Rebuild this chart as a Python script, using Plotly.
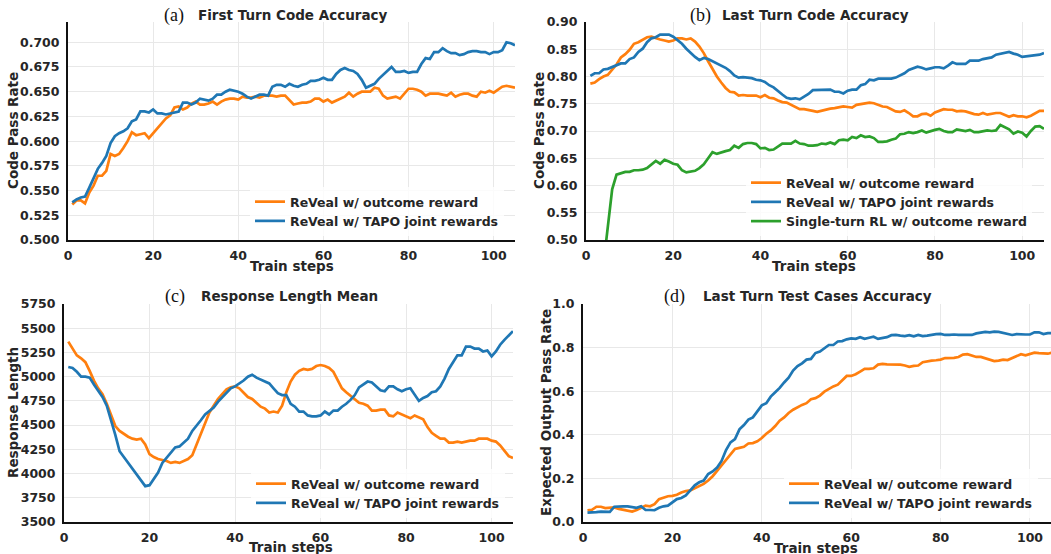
import plotly.graph_objects as go

W, H = 1051, 554

steps = list(range(1, 106))
green_steps = list(range(4, 106))

a_orange = [0.536,0.540,0.540,0.537,0.548,0.555,0.565,0.565,0.570,0.587,
 0.585,0.587,0.593,0.600,0.609,0.606,0.607,0.608,0.603,0.608,
 0.614,0.618,0.623,0.626,0.634,0.635,0.632,0.634,0.638,0.640,
 0.637,0.637,0.638,0.640,0.637,0.640,0.642,0.643,0.643,0.642,
 0.645,0.644,0.644,0.645,0.644,0.646,0.646,0.646,0.645,0.646,
 0.646,0.641,0.637,0.638,0.639,0.639,0.640,0.643,0.643,0.640,
 0.642,0.639,0.641,0.643,0.645,0.649,0.645,0.648,0.650,0.650,
 0.650,0.654,0.653,0.646,0.643,0.644,0.645,0.643,0.648,0.653,
 0.653,0.652,0.650,0.646,0.648,0.648,0.648,0.647,0.646,0.649,
 0.645,0.647,0.648,0.648,0.646,0.645,0.650,0.649,0.651,0.649,
 0.652,0.655,0.656,0.655,0.654]
a_blue = [0.538,0.541,0.543,0.544,0.553,0.562,0.572,0.578,0.585,0.598,
 0.605,0.608,0.610,0.613,0.620,0.622,0.630,0.630,0.629,0.632,
 0.628,0.628,0.627,0.628,0.629,0.630,0.639,0.639,0.637,0.639,
 0.643,0.642,0.641,0.643,0.647,0.647,0.650,0.652,0.651,0.650,
 0.648,0.645,0.643,0.645,0.647,0.647,0.646,0.655,0.657,0.657,
 0.655,0.658,0.656,0.655,0.657,0.658,0.661,0.661,0.662,0.664,
 0.662,0.662,0.668,0.672,0.674,0.672,0.671,0.668,0.662,0.654,
 0.656,0.658,0.663,0.667,0.670,0.675,0.670,0.670,0.671,0.669,
 0.670,0.670,0.678,0.684,0.683,0.690,0.690,0.694,0.691,0.689,
 0.689,0.687,0.688,0.690,0.691,0.691,0.690,0.690,0.688,0.690,
 0.690,0.692,0.700,0.699,0.697]

b_orange = [0.787,0.789,0.795,0.800,0.803,0.812,0.822,0.835,0.841,0.849,
 0.860,0.863,0.868,0.872,0.873,0.870,0.868,0.866,0.864,0.866,
 0.870,0.870,0.868,0.870,0.864,0.855,0.843,0.828,0.813,0.800,
 0.789,0.779,0.772,0.771,0.765,0.766,0.765,0.765,0.765,0.762,
 0.766,0.761,0.760,0.756,0.753,0.752,0.748,0.745,0.740,0.740,
 0.739,0.737,0.735,0.737,0.740,0.741,0.742,0.744,0.745,0.744,
 0.743,0.748,0.749,0.751,0.752,0.751,0.748,0.745,0.744,0.740,
 0.736,0.735,0.738,0.733,0.727,0.727,0.731,0.732,0.728,0.734,
 0.737,0.740,0.739,0.739,0.736,0.737,0.736,0.733,0.731,0.730,
 0.733,0.730,0.732,0.733,0.733,0.730,0.726,0.729,0.727,0.727,
 0.725,0.728,0.733,0.737,0.737]
b_blue = [0.801,0.806,0.806,0.813,0.814,0.817,0.820,0.824,0.824,0.832,
 0.835,0.845,0.851,0.863,0.870,0.872,0.877,0.877,0.877,0.873,
 0.866,0.860,0.851,0.843,0.836,0.830,0.834,0.832,0.828,0.824,
 0.820,0.816,0.810,0.802,0.798,0.799,0.798,0.797,0.794,0.793,
 0.790,0.784,0.780,0.773,0.767,0.761,0.759,0.760,0.758,0.763,
 0.768,0.775,0.775,0.775,0.775,0.776,0.772,0.772,0.769,0.774,
 0.776,0.776,0.784,0.786,0.794,0.793,0.796,0.796,0.795,0.796,
 0.798,0.802,0.806,0.812,0.815,0.818,0.816,0.813,0.815,0.817,
 0.817,0.815,0.820,0.826,0.823,0.823,0.823,0.829,0.829,0.829,
 0.832,0.833,0.835,0.840,0.842,0.843,0.845,0.842,0.840,0.836,
 0.837,0.837,0.838,0.840,0.843]
b_green = [0.455,0.530,0.593,0.620,0.623,0.625,0.625,0.628,0.628,0.629,
 0.632,0.638,0.645,0.640,0.647,0.644,0.640,0.638,0.628,0.624,
 0.626,0.627,0.632,0.639,0.650,0.661,0.658,0.661,0.663,0.665,
 0.673,0.669,0.676,0.678,0.678,0.676,0.668,0.669,0.665,0.666,
 0.672,0.677,0.677,0.677,0.682,0.677,0.676,0.673,0.673,0.674,
 0.677,0.676,0.679,0.676,0.683,0.684,0.683,0.689,0.687,0.692,
 0.689,0.690,0.687,0.680,0.680,0.681,0.684,0.686,0.694,0.695,
 0.698,0.696,0.698,0.701,0.697,0.700,0.702,0.704,0.700,0.698,
 0.698,0.703,0.702,0.700,0.702,0.698,0.698,0.700,0.701,0.700,
 0.701,0.711,0.707,0.703,0.695,0.699,0.697,0.690,0.700,0.708,
 0.709,0.704]

c_orange = [5362,5290,5220,5190,5150,5060,4960,4880,4820,4720,
 4610,4490,4440,4410,4380,4360,4350,4360,4300,4200,
 4170,4150,4140,4130,4110,4120,4110,4130,4150,4190,
 4300,4420,4530,4630,4700,4770,4820,4870,4890,4900,
 4880,4840,4790,4770,4730,4690,4670,4630,4640,4630,
 4700,4840,4950,5020,5060,5080,5070,5080,5110,5120,
 5110,5090,5050,4970,4880,4840,4800,4760,4730,4720,
 4700,4650,4650,4660,4660,4600,4590,4630,4610,4590,
 4570,4600,4580,4560,4480,4420,4390,4360,4360,4320,
 4320,4330,4320,4330,4340,4340,4360,4360,4360,4340,
 4330,4290,4230,4180,4160]
c_blue = [5100,5090,5050,5000,5000,4990,4920,4860,4790,4700,
 4560,4400,4230,4170,4110,4050,3990,3930,3870,3880,
 3950,4010,4110,4160,4210,4270,4280,4320,4360,4440,
 4490,4550,4610,4650,4680,4740,4790,4840,4880,4900,
 4930,4960,5000,5020,4990,4970,4950,4930,4880,4830,
 4810,4810,4720,4690,4640,4640,4600,4590,4590,4600,
 4640,4610,4650,4650,4690,4720,4760,4810,4890,4920,
 4950,4940,4900,4860,4850,4900,4900,4870,4850,4870,
 4880,4810,4750,4780,4800,4840,4850,4900,4980,5080,
 5150,5220,5220,5310,5310,5290,5290,5260,5270,5210,
 5260,5330,5380,5420,5470]

d_orange = [0.054,0.056,0.070,0.070,0.064,0.064,0.067,0.060,0.055,0.050,
 0.048,0.055,0.065,0.075,0.072,0.082,0.105,0.112,0.118,0.120,
 0.125,0.135,0.142,0.145,0.155,0.165,0.175,0.190,0.210,0.235,
 0.260,0.290,0.315,0.335,0.340,0.345,0.360,0.362,0.370,0.385,
 0.405,0.420,0.440,0.465,0.480,0.500,0.515,0.528,0.537,0.545,
 0.563,0.568,0.580,0.598,0.612,0.622,0.630,0.648,0.670,0.670,
 0.678,0.690,0.702,0.702,0.705,0.722,0.725,0.723,0.723,0.724,
 0.722,0.718,0.712,0.716,0.718,0.733,0.738,0.740,0.742,0.745,
 0.752,0.752,0.753,0.757,0.768,0.770,0.765,0.757,0.757,0.750,
 0.743,0.738,0.740,0.745,0.743,0.752,0.762,0.770,0.765,0.770,
 0.777,0.775,0.775,0.772,0.778]
d_blue = [0.043,0.043,0.045,0.048,0.046,0.046,0.070,0.072,0.072,0.072,
 0.070,0.065,0.072,0.055,0.055,0.054,0.065,0.072,0.075,0.088,
 0.105,0.110,0.122,0.145,0.168,0.182,0.190,0.220,0.232,0.250,
 0.280,0.330,0.365,0.380,0.425,0.445,0.470,0.480,0.505,0.535,
 0.545,0.575,0.595,0.615,0.640,0.662,0.695,0.715,0.728,0.745,
 0.748,0.775,0.782,0.795,0.812,0.812,0.828,0.830,0.838,0.842,
 0.840,0.848,0.840,0.845,0.850,0.840,0.845,0.848,0.857,0.858,
 0.855,0.853,0.857,0.852,0.858,0.853,0.855,0.860,0.862,0.863,
 0.858,0.858,0.860,0.858,0.858,0.860,0.858,0.865,0.870,0.872,
 0.870,0.873,0.872,0.868,0.863,0.858,0.862,0.860,0.860,0.860,
 0.870,0.870,0.862,0.866,0.867]

label_outcome = "ReVeal w/ outcome reward"
label_tapo = "ReVeal w/ TAPO joint rewards"
label_single = "Single-turn RL w/ outcome reward"

titles = ["First Turn Code Accuracy", "Last Turn Code Accuracy",
          "Response Length Mean", "Last Turn Test Cases Accuracy"]
letters = ["(a)", "(b)", "(c)", "(d)"]
ytitles = ["Code Pass Rate", "Code Pass Rate", "Response Length", "Expected Output Pass Rate"]
xtitle = "Train steps"

ORANGE, BLUE, GREEN = "#ff7f0e", "#1f77b4", "#2ca02c"
SANS = "DejaVu Sans"
TXT = "#262626"
LW = 2.7

def px_x(x):
    return x / W

def px_y(y):
    return 1 - y / H

# panel geometry in pixels: (left, right, top, bottom)
panels = [(68, 515, 22, 240), (586, 1044, 22, 240),
          (64, 513, 304, 522), (583, 1051, 304, 522)]
xranges = [[0, 105], [0, 105], [0, 105], [0, 104.7]]
yranges = [[0.5, 0.7205], [0.5, 0.9], [3500, 5750], [0.0, 1.0]]
ydticks = [0.025, 0.05, 250, 0.2]
yfmt = [".3f", ".2f", "d", ".1f"]

fig = go.Figure()

series = [
    (1, steps, a_orange, label_outcome, ORANGE),
    (1, steps, a_blue, label_tapo, BLUE),
    (2, steps, b_orange, label_outcome, ORANGE),
    (2, steps, b_blue, label_tapo, BLUE),
    (2, green_steps, b_green, label_single, GREEN),
    (3, steps, c_orange, label_outcome, ORANGE),
    (3, steps, c_blue, label_tapo, BLUE),
    (4, steps, d_orange, label_outcome, ORANGE),
    (4, steps, d_blue, label_tapo, BLUE),
]
for k, xs, ys, name, col in series:
    sfx = "" if k == 1 else str(k)
    fig.add_trace(go.Scatter(
        x=xs, y=ys, mode="lines", name=name,
        line=dict(color=col, width=LW),
        xaxis="x" + sfx, yaxis="y" + sfx,
        legend="legend" + sfx, showlegend=True))

layout = dict(template="none", width=W, height=H,
              margin=dict(l=0, r=0, t=0, b=0, pad=0, autoexpand=False),
              paper_bgcolor="white", plot_bgcolor="white",
              font=dict(family=SANS, color=TXT))

for i, (l, r, t, b) in enumerate(panels):
    sfx = "" if i == 0 else str(i + 1)
    layout["xaxis" + sfx] = dict(
        domain=[px_x(l), px_x(r)], range=xranges[i], anchor="y" + sfx,
        automargin=False,
        tickvals=[0, 20, 40, 60, 80, 100], showgrid=True, gridcolor="#e8e8e8",
        gridwidth=1, zeroline=False, showline=True, linecolor="#111",
        linewidth=2, ticks="outside", ticklen=3, tickcolor="rgba(0,0,0,0)",
        tickfont=dict(family=SANS, size=12.5, color=TXT, weight="bold"))
    layout["yaxis" + sfx] = dict(
        domain=[px_y(b), px_y(t)], range=yranges[i], anchor="x" + sfx,
        automargin=False,
        dtick=ydticks[i], tick0=yranges[i][0], tickformat=yfmt[i],
        showgrid=True, gridcolor="#e8e8e8", gridwidth=1, zeroline=False,
        showline=True, linecolor="#111", linewidth=2, ticks="outside",
        ticklen=4, tickcolor="rgba(0,0,0,0)",
        tickfont=dict(family=SANS, size=12.5, color=TXT, weight="bold"))

# legends: (text start x, top y)
leg_pos = [(291, 187), (787, 168), (292, 469), (825, 469)]
for i, (tx, ty) in enumerate(leg_pos):
    key = "legend" if i == 0 else "legend" + str(i + 1)
    layout[key] = dict(x=px_x(tx - 41), y=px_y(ty), xanchor="left", yanchor="top",
                       bgcolor="rgba(255,255,255,0.8)", borderwidth=0,
                       font=dict(family=SANS, size=12.5, color=TXT, weight="bold"),
                       tracegroupgap=0, itemwidth=30)

fig.update_layout(**layout)

anns = []
# titles: letter position, title position, y center
title_pos = [(162, 196, 15), (688, 720, 15), (163, 199, 296), (662, 701, 296)]
for i, (lx, tx, ty) in enumerate(title_pos):
    anns.append(dict(text=letters[i], x=px_x(lx), y=px_y(ty), xref="paper", yref="paper",
                     xanchor="left", yanchor="middle", showarrow=False,
                     font=dict(family="Liberation Serif", size=18, color="#111")))
    anns.append(dict(text=titles[i], x=px_x(tx), y=px_y(ty), xref="paper", yref="paper",
                     xanchor="left", yanchor="middle", showarrow=False,
                     font=dict(family=SANS, size=13.5, color=TXT, weight="bold")))

# axis titles
xt_pos = [(292, 266), (814, 266), (291, 547), (816, 548)]
yt_pos = [(13, 131), (539, 131), (13, 413), (546, 413)]
for i in range(4):
    anns.append(dict(text=xtitle, x=px_x(xt_pos[i][0]), y=px_y(xt_pos[i][1]),
                     xref="paper", yref="paper", xanchor="center", yanchor="middle",
                     showarrow=False,
                     font=dict(family=SANS, size=13.5, color=TXT, weight="bold")))
    anns.append(dict(text=ytitles[i], x=px_x(yt_pos[i][0]), y=px_y(yt_pos[i][1]),
                     xref="paper", yref="paper", xanchor="center", yanchor="middle",
                     textangle=-90, showarrow=False,
                     font=dict(family=SANS, size=13.5, color=TXT, weight="bold")))

fig.update_layout(annotations=anns)
fig.write_html("out.html",
               config={"displayModeBar": False},
               post_script="document.body.style.margin='0';document.body.style.overflow='hidden';")
